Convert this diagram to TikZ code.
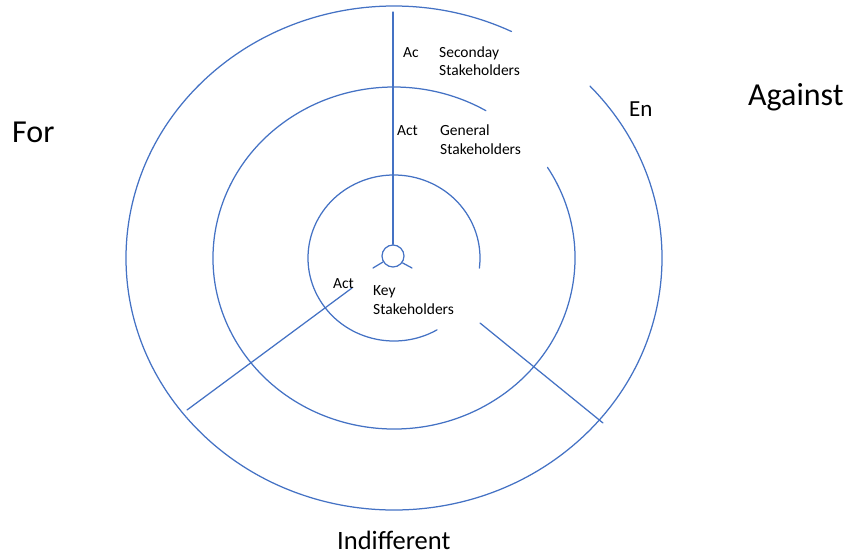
\documentclass[tikz,border=0pt]{standalone}
\usepackage{fontspec}
\setmainfont{Carlito}
\definecolor{ringblue}{HTML}{4472C4}
\tikzset{
  ring/.style={draw=ringblue, line width=1.25pt},
  spoke/.style={draw=ringblue, line width=1.25pt},
  side/.style={anchor=base west, inner sep=0pt, text depth=0pt, font=\fontsize{32}{38}\selectfont},
  lbl/.style={anchor=base west, inner sep=0pt, align=left, font=\fontsize{15.5}{18.5}\selectfont},
}

\begin{document}
\begin{tikzpicture}[x=1pt, y=-1pt, line cap=round, line join=round]

  %% ==== rings (the gaps are where the label boxes sit) ====
  \draw[ring] (394,258) ++(-43:268 and 252) arc[start angle=-43, end angle=296, x radius=268, y radius=252];
  \draw[ring] (394,258) ++(-32:181 and 171) arc[start angle=-32, end angle=300.5, x radius=181, y radius=171];
  \draw[ring] (394,258) ++(60:86 and 83) arc[start angle=60, end angle=367, x radius=86, y radius=83];

  %% ==== hub and spokes ====
  \node[circle, draw=ringblue, line width=1.25pt, minimum size=22pt, inner sep=0pt] (hub) at (393,256) {};
  \coordinate (top) at (393,12);
  \coordinate (ll-stub) at (373,268);
  \coordinate (lr-stub) at (412,268);
  \coordinate (ll-in) at (352,288);
  \coordinate (ll-out) at (187,410);
  \coordinate (lr-in) at (480,323);
  \coordinate (lr-out) at (603,423);

  \draw[spoke] (hub.north) -- (top);
  \draw[spoke] (hub.211) -- (ll-stub);
  \draw[spoke] (hub.-36) -- (lr-stub);
  \draw[spoke] (ll-in) -- (ll-out);
  \draw[spoke] (lr-in) -- (lr-out);

  %% ==== labels (base = baseline of the last line) ====
  \node[lbl] (ac-sec) at (403,58) {Ac};
  \node[lbl] (sec) at (439,76) {Seconday\\Stakeholders};
  \node[lbl] (ac-gen) at (397,136) {Act};
  \node[lbl] (gen) at (440,154) {General\\Stakeholders};
  \node[lbl] (ac-key) at (333,288) {Act};
  \node[lbl] (key) at (373,314) {Key\\Stakeholders};
  \node[lbl, font=\fontsize{23}{27}\selectfont] (en) at (629,117) {En};

  \node[side] (for) at (12,143) {For};
  \node[side] (against) at (748,106) {Against};
  \node[side, font=\fontsize{26.5}{31}\selectfont] (indiff) at (337,549) {Indifferent};

  % fix the canvas to the reference size
  \pgfresetboundingbox
  \path[use as bounding box] (0,0) rectangle (850,556);
\end{tikzpicture}
\end{document}
